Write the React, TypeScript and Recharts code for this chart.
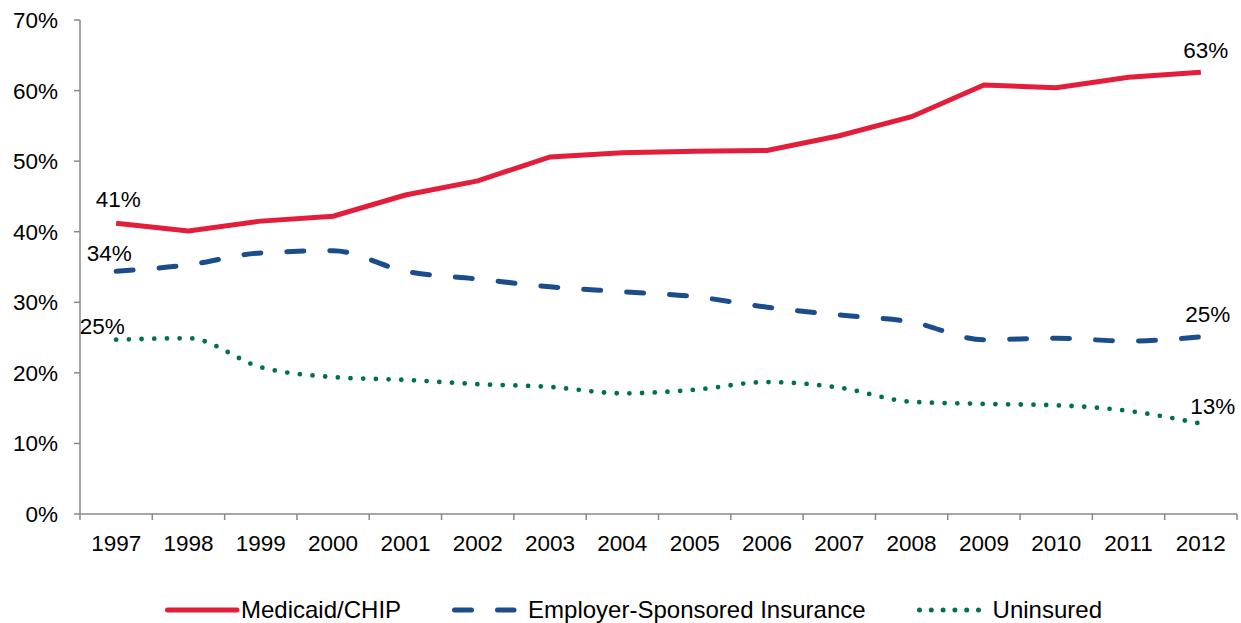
import { LineChart, Line, XAxis, YAxis, Legend, LabelList } from "recharts";

const years = [
  "1997", "1998", "1999", "2000", "2001", "2002", "2003", "2004",
  "2005", "2006", "2007", "2008", "2009", "2010", "2011", "2012",
];
const medicaid = [41.2, 40.1, 41.5, 42.2, 45.2, 47.2, 50.6, 51.2, 51.4, 51.5, 53.6, 56.3, 60.8, 60.4, 61.9, 62.6];
const employer = [34.4, 35.3, 37.0, 37.3, 34.4, 33.3, 32.2, 31.5, 30.8, 29.3, 28.2, 27.2, 24.7, 24.9, 24.5, 25.1];
const uninsured = [24.7, 24.9, 20.8, 19.4, 19.0, 18.4, 18.0, 17.1, 17.6, 18.7, 17.9, 15.9, 15.6, 15.4, 14.6, 12.8];
const yTicks = [0, 10, 20, 30, 40, 50, 60, 70];

const data = years.map((year, i) => ({
  year,
  medicaid: medicaid[i],
  employer: employer[i],
  uninsured: uninsured[i],
}));

const FONT = "'Liberation Sans', Arial, sans-serif";
const AXIS = "#898989";
const COLORS = {
  medicaid: "#E31E3B",
  employer: "#1B4D8C",
  uninsured: "#00704F",
};

const WIDTH = 1241;
const HEIGHT = 623;
const MARGIN = { top: 20, right: 4, left: 0, bottom: 0 };
const Y_WIDTH = 80;
const PLOT_W = WIDTH - MARGIN.left - MARGIN.right - Y_WIDTH;
const HALF_BAND = PLOT_W / (years.length * 2);

// where the end labels sit relative to their point
const LABEL_SHIFT: Record<string, { first: [number, number]; last: [number, number] }> = {
  medicaid: { first: [2, -22], last: [5, -20] },
  employer: { first: [-7, -16], last: [7, -21] },
  uninsured: { first: [-14, -12], last: [12, -16] },
};

const YearTick = (props: any) => {
  const { x, y, payload, index } = props;
  const axisY = y - 21;
  return (
    <g>
      <line x1={x - HALF_BAND} x2={x - HALF_BAND} y1={axisY} y2={axisY + 6} stroke={AXIS} strokeWidth={1.5} />
      {index === years.length - 1 && (
        <line x1={x + HALF_BAND} x2={x + HALF_BAND} y1={axisY} y2={axisY + 6} stroke={AXIS} strokeWidth={1.5} />
      )}
      <text x={x} y={y} dy="0.71em" textAnchor="middle" fontSize={22.5} fontFamily={FONT} fill="#000">
        {payload.value}
      </text>
    </g>
  );
};

const endLabel = (key: string) => (props: any) => {
  const { x, y, value, index } = props;
  const isFirst = index === 0;
  const isLast = index === years.length - 1;
  if (!isFirst && !isLast) return null;
  const [dx, dy] = isFirst ? LABEL_SHIFT[key].first : LABEL_SHIFT[key].last;
  return (
    <text x={x + dx} y={y + dy} textAnchor="middle" dominantBaseline="middle" fontSize={22.5} fontFamily={FONT} fill="#000">
      {`${Math.round(value)}%`}
    </text>
  );
};

const legendItems = [
  { label: "Medicaid/CHIP", color: COLORS.medicaid, dash: undefined, width: 5, x2: 72 },
  { label: "Employer-Sponsored Insurance", color: COLORS.employer, dash: "17 26", width: 5, x2: 62 },
  { label: "Uninsured", color: COLORS.uninsured, dash: "0 11.8", width: 5, x2: 63 },
];

const LegendContent = () => (
  <div
    style={{
      height: 69,
      display: "flex",
      alignItems: "flex-end",
      paddingLeft: 165,
      paddingBottom: 2,
      boxSizing: "border-box",
      fontFamily: FONT,
      fontSize: 24,
      color: "#000",
    }}
  >
    {legendItems.map((item, i) => (
      <div key={item.label} style={{ display: "flex", alignItems: "center", marginRight: i < 2 ? 51 : 0, height: 22 }}>
        <svg width={76} height={10} style={{ display: "block" }}>
          <line
            x1={2.5}
            x2={item.x2}
            y1={5}
            y2={5}
            stroke={item.color}
            strokeWidth={item.width}
            strokeDasharray={item.dash}
            strokeLinecap="round"
          />
        </svg>
        <span style={{ lineHeight: "22px" }}>{item.label}</span>
      </div>
    ))}
  </div>
);

export default function App() {
  return (
    <div style={{ width: WIDTH, height: HEIGHT, background: "#fff" }}>
      <style>{"body{margin:0}"}</style>
      <LineChart width={WIDTH} height={HEIGHT} data={data} margin={MARGIN}>
        <XAxis
          dataKey="year"
          height={40}
          padding={{ left: HALF_BAND, right: HALF_BAND }}
          axisLine={{ stroke: AXIS, strokeWidth: 1.5 }}
          tickLine={false}
          tickSize={6}
          tickMargin={15}
          interval={0}
          tick={<YearTick />}
        />
        <YAxis
          width={Y_WIDTH}
          domain={[0, 70]}
          ticks={yTicks}
          interval={0}
          tickFormatter={(v: number) => `${v}%`}
          axisLine={{ stroke: AXIS, strokeWidth: 1.5 }}
          tickLine={{ stroke: AXIS, strokeWidth: 1.5 }}
          tickSize={6}
          tickMargin={16}
          tick={{ fontSize: 22.5, fontFamily: FONT, fill: "#000" }}
        />
        <Legend verticalAlign="bottom" content={<LegendContent />} />
        <Line
          type="linear"
          dataKey="medicaid"
          stroke={COLORS.medicaid}
          strokeWidth={5}
          dot={false}
          isAnimationActive={false}
        >
          <LabelList dataKey="medicaid" content={endLabel("medicaid")} />
        </Line>
        <Line
          type="monotone"
          dataKey="employer"
          stroke={COLORS.employer}
          strokeWidth={5}
          strokeDasharray="17 26"
          strokeLinecap="round"
          dot={false}
          isAnimationActive={false}
        >
          <LabelList dataKey="employer" content={endLabel("employer")} />
        </Line>
        <Line
          type="monotone"
          dataKey="uninsured"
          stroke={COLORS.uninsured}
          strokeWidth={4.8}
          strokeDasharray="0 12.7"
          strokeLinecap="round"
          dot={false}
          isAnimationActive={false}
        >
          <LabelList dataKey="uninsured" content={endLabel("uninsured")} />
        </Line>
      </LineChart>
    </div>
  );
}
